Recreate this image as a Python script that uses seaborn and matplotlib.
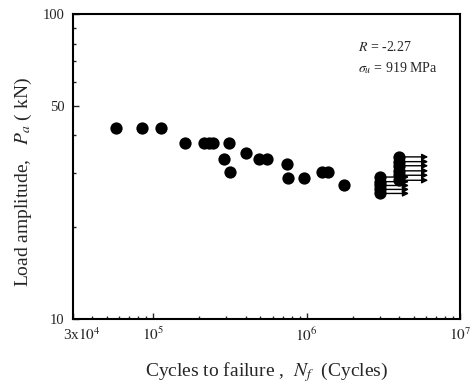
import numpy as np
import pandas as pd
import seaborn as sns
import matplotlib
matplotlib.use("Agg")
import matplotlib.pyplot as plt
import matplotlib.transforms as mtransforms
from matplotlib.ticker import FixedLocator, NullFormatter

# Failed specimens
cycles = [5.7e4, 8.5e4, 1.12e5, 1.61e5, 2.15e5, 2.3e5, 2.45e5, 3.13e5, 2.89e5, 3.18e5,
          4.05e5, 4.92e5, 5.49e5, 7.45e5, 7.6e5, 9.67e5, 1.25e6, 1.38e6, 1.75e6]
load = [42.4, 42.4, 42.4, 37.9, 37.9, 37.9, 37.9, 37.9, 33.4, 30.4,
        34.9, 33.5, 33.5, 32.2, 29.1, 29.1, 30.4, 30.4, 27.4]
# Run-outs (no failure)
runout_cycles = [3.0e6, 3.0e6, 3.0e6, 3.0e6, 3.0e6, 4.0e6, 4.0e6, 4.0e6, 4.0e6, 4.0e6, 4.0e6]
runout_load = [29.2, 28.2, 27.4, 26.6, 25.8, 34.0, 32.8, 31.8, 30.6, 29.6, 28.5]

x_ticks = [3e4, 1e5, 1e6, 1e7]
x_ticklabels = [r"3x$10^4$", r"$10^5$", r"$10^6$", r"$10^7$"]
y_ticks = [10, 50, 100]
y_ticklabels = ["10", "50", "100"]

sns.set_style("white")
plt.rcParams["font.family"] = ["Liberation Serif", "DejaVu Serif"]
plt.rcParams["mathtext.fontset"] = "stix"

fig = plt.figure(figsize=(4.72, 3.89), dpi=100)
ax = fig.add_axes([0.1547, 0.18, 0.82, 0.784])

df = pd.DataFrame({"N": cycles + runout_cycles, "P": load + runout_load})
sns.scatterplot(data=df, x="N", y="P", ax=ax, color="black", s=78,
                edgecolor="black", linewidth=0, zorder=3)

for xr, yr in zip(runout_cycles, runout_load):
    ax.annotate("", xy=(xr * 1.55, yr), xytext=(xr, yr),
                arrowprops=dict(arrowstyle="-|>", color="black", lw=1.0,
                                mutation_scale=9, shrinkA=0, shrinkB=0), zorder=2)

ax.set_xscale("log")
ax.set_yscale("log")
ax.set_xlim(3e4, 1e7)
ax.set_ylim(10, 100)

ax.xaxis.set_major_locator(FixedLocator(x_ticks))
ax.set_xticklabels(x_ticklabels, fontsize=11)
ax.xaxis.set_minor_locator(FixedLocator(
    [m * 10**e for e in (4, 5, 6) for m in range(2, 10) if 3e4 < m * 10**e < 1e7]))
ax.xaxis.set_minor_formatter(NullFormatter())
ax.yaxis.set_major_locator(FixedLocator(y_ticks))
ax.set_yticklabels(y_ticklabels, fontsize=10.5)
ax.yaxis.set_minor_locator(FixedLocator([20, 30, 40, 60, 70, 80, 90]))
ax.yaxis.set_minor_formatter(NullFormatter())

ax.tick_params(which="both", direction="in", bottom=True, left=True, top=False, right=False)
ax.tick_params(which="major", length=4, width=1)
ax.tick_params(which="minor", length=2.5, width=1)
ax.tick_params(axis="x", which="major", pad=5)
ax.tick_params(axis="y", which="major", pad=6)

# shift the first x tick label right so it clears the "10" label
first = ax.get_xticklabels()[0]
first.set_transform(first.get_transform() + mtransforms.ScaledTranslation(9 / 100, 0, fig.dpi_scale_trans))

for sp in ax.spines.values():
    sp.set_linewidth(1.5)
    sp.set_color("black")

ax.set_xlabel(r"Cycles to failure ,  $N_f$  (Cycles)", fontsize=14, labelpad=12)
ax.set_ylabel(r"Load amplitude,   $P_a$ ( kN)", fontsize=14)
ax.yaxis.set_label_coords(-0.102, 0.45)

ax.text(0.736, 0.892, r"$R$ = -2.27", transform=ax.transAxes, fontsize=10, va="center")
ax.text(0.736, 0.823, r"$\sigma_u$ = 919 MPa", transform=ax.transAxes, fontsize=10, va="center")

fig.savefig("out.png", dpi=100)
